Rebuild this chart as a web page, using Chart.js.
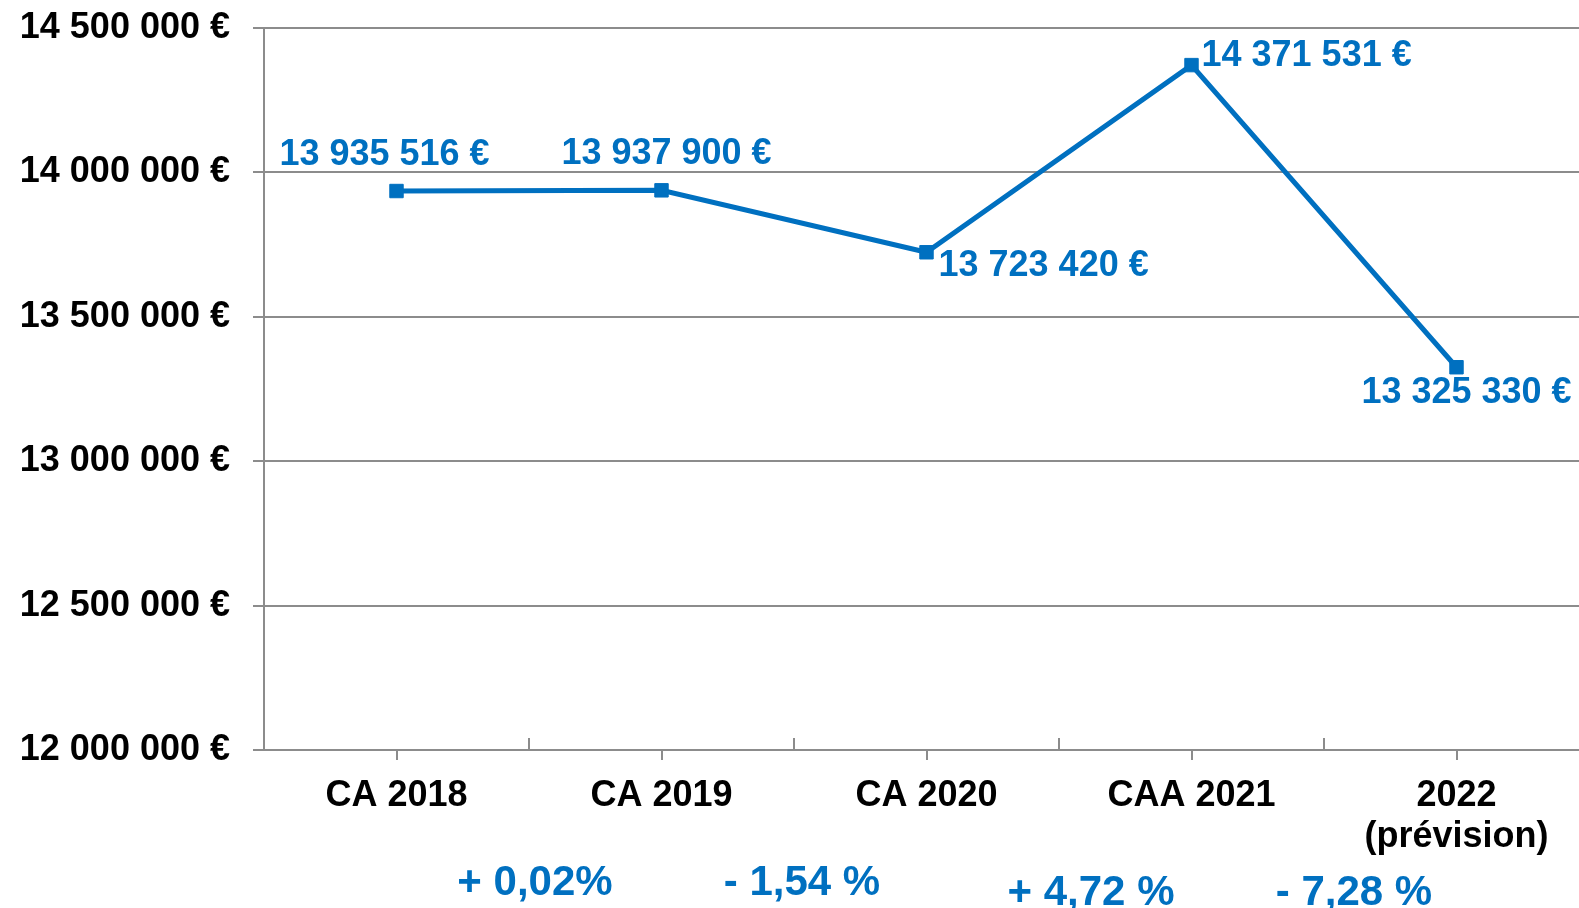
<!DOCTYPE html>
<html>
<head>
<meta charset="utf-8">
<script src="https://cdn.jsdelivr.net/npm/chart.js@4/dist/chart.umd.min.js"></script>
<style>
    html, body { margin: 0; padding: 0; background: #fff; overflow: hidden; }
    #wrap { width: 1590px; height: 908px; position: relative; }
</style>
</head>
<body>
<div id="wrap"><canvas id="chart"></canvas></div>
<script>
const categories = ["CA 2018", "CA 2019", "CA 2020", "CAA 2021", ["2022", "(prévision)"]];
const amounts = [13935516, 13937900, 13723420, 14371531, 13325330];
const variations = ["+ 0,02%", "- 1,54 %", "+ 4,72 %", "- 7,28 %"];
const yMin = 12000000;
const yMax = 14500000;
const yStep = 500000;

const BLUE = "#0070C0";
const GREY = "#8c8c8c";
const FONT = "'Liberation Sans', Arial, sans-serif";

function euro(v) {
    return String(Math.round(v)).replace(/\B(?=(\d{3})+(?!\d))/g, " ") + " €";
}

// where each value label sits relative to its point
const labelPlacement = [
    { align: "center", dx: -12, dy: -36 },
    { align: "center", dx: 5, dy: -36 },
    { align: "left", dx: 12, dy: 14 },
    { align: "left", dx: 10, dy: -9 },
    { align: "center", dx: 10, dy: 26 }
];

// percent labels between categories
const variationPlacement = [
    { dx: 6, y: 895 },
    { dx: 8, y: 895 },
    { dx: 32, y: 905 },
    { dx: 30, y: 905 }
];

const extras = {
    id: "extras",
    afterDatasetsDraw(chart) {
        const ctx = chart.ctx;
        const x = chart.scales.x;
        const area = chart.chartArea;
        ctx.save();

        // upward tick marks on category boundaries
        ctx.strokeStyle = GREY;
        ctx.lineWidth = 2;
        for (let i = 0; i < categories.length - 1; i++) {
            const b = (x.getPixelForTick(i) + x.getPixelForTick(i + 1)) / 2;
            ctx.beginPath();
            ctx.moveTo(b, area.bottom);
            ctx.lineTo(b, area.bottom - 12);
            ctx.stroke();
        }

        // value labels
        const meta = chart.getDatasetMeta(0);
        ctx.fillStyle = BLUE;
        ctx.font = "bold 36px " + FONT;
        ctx.textBaseline = "middle";
        meta.data.forEach((pt, i) => {
            const p = labelPlacement[i];
            ctx.textAlign = p.align;
            ctx.fillText(euro(amounts[i]), pt.x + p.dx, pt.y + p.dy);
        });

        // variations
        ctx.font = "bold 42px " + FONT;
        ctx.textAlign = "center";
        ctx.textBaseline = "alphabetic";
        variations.forEach((txt, i) => {
            const mid = (x.getPixelForTick(i) + x.getPixelForTick(i + 1)) / 2;
            const p = variationPlacement[i];
            ctx.fillText(txt, mid + p.dx, p.y);
        });
        ctx.restore();
    }
};

new Chart(document.getElementById("chart"), {
    type: "line",
    data: {
        labels: categories,
        datasets: [{
            data: amounts,
            borderColor: BLUE,
            backgroundColor: BLUE,
            borderWidth: 5,
            pointStyle: "rect",
            pointRadius: 9.5,
            pointBorderWidth: 1,
            tension: 0,
            fill: false
        }]
    },
    options: {
        responsive: true,
        maintainAspectRatio: false,
        animation: false,
        layout: { autoPadding: false, padding: { top: 28, right: 1, left: 0, bottom: 0 } },
        plugins: {
            legend: { display: false },
            tooltip: { enabled: false }
        },
        scales: {
            x: {
                offset: true,
                grid: {
                    offset: false,
                    drawOnChartArea: false,
                    drawTicks: true,
                    tickLength: 10,
                    color: GREY,
                    lineWidth: 2
                },
                border: { display: true, color: GREY, width: 2 },
                ticks: {
                    color: "#000",
                    font: { family: FONT, size: 36, weight: "bold", lineHeight: 1.15 },
                    padding: 15,
                    maxRotation: 0,
                    autoSkip: false
                },
                afterFit(scale) {
                    scale.height = 158;
                    scale.paddingLeft = 0;
                    scale.paddingRight = 0;
                }
            },
            y: {
                min: yMin,
                max: yMax,
                grid: {
                    color: GREY,
                    lineWidth: 2,
                    drawTicks: true,
                    tickLength: 11
                },
                border: { display: true, color: GREY, width: 2 },
                ticks: {
                    stepSize: yStep,
                    color: "#000",
                    padding: 23,
                    font: { family: FONT, size: 36, weight: "bold" },
                    callback: v => euro(v)
                },
                afterFit(scale) {
                    scale.width = 264;
                    scale.paddingTop = 0;
                    scale.paddingBottom = 0;
                }
            }
        }
    },
    plugins: [extras]
});
</script>
</body>
</html>
